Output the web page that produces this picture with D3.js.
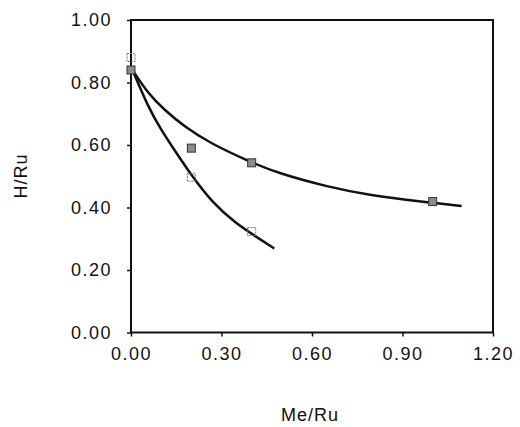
<!DOCTYPE html>
<html>
<head>
<meta charset="utf-8">
<script src="https://cdn.jsdelivr.net/npm/d3@7"></script>
<style>
  body { margin: 0; background: #fff; }
  svg text { font-family: "Liberation Sans", Arial, sans-serif; fill: #111; }
</style>
</head>
<body>
<svg id="chart" width="520" height="427"></svg>
<script>
// tick values
var xTicks = [0, 0.3, 0.6, 0.9, 1.2]
var yTicks = [0, 0.2, 0.4, 0.6, 0.8, 1.0]

// measured points (filled squares)
var filledX = [0, 0.2, 0.4, 1.0]
var filledY = [0.84, 0.59, 0.543, 0.419]

// measured points (open squares)
var openX = [0, 0.2, 0.4]
var openY = [0.88, 0.497, 0.323]

// fitted curves
var upperX = [0.005, 0.056, 0.111, 0.177, 0.26, 0.392, 0.486, 0.656, 0.788, 0.92, 1.0, 1.096]
var upperY = [0.84, 0.765, 0.712, 0.659, 0.607, 0.547, 0.51, 0.465, 0.44, 0.424, 0.415, 0.405]
var lowerX = [0.005, 0.056, 0.1, 0.144, 0.195, 0.271, 0.348, 0.414, 0.475]
var lowerY = [0.84, 0.723, 0.648, 0.584, 0.51, 0.413, 0.349, 0.307, 0.269]

var svg = d3.select("#chart")

var x = d3.scaleLinear().domain([0, 1.2]).range([131, 493])
var y = d3.scaleLinear().domain([0, 1.0]).range([332.5, 20])

// axes
svg.append("g")
    .attr("transform", "translate(0," + y(0) + ")")
    .call(d3.axisBottom(x).tickValues(xTicks).tickFormat(d3.format(".2f")).tickSize(4).tickPadding(11))
svg.append("g")
    .attr("transform", "translate(" + x(0) + ",0)")
    .call(d3.axisLeft(y).tickValues(yTicks).tickFormat(d3.format(".2f")).tickSize(4).tickPadding(15))

svg.selectAll(".domain").remove()
svg.selectAll(".tick line").style("stroke", "#111").style("stroke-width", "1.5px")
svg.selectAll(".tick text")
    .style("font-size", "18px")
    .style("letter-spacing", "1.5px")
    .style("fill", "#111")

// frame
svg.append("rect")
    .attr("x", x(0)).attr("y", y(1))
    .attr("width", x(1.2) - x(0)).attr("height", y(0) - y(1))
    .attr("fill", "none").attr("stroke", "#111").attr("stroke-width", 2)

// curves
var line = d3.line()
    .x(function(d){ return x(d[0]) })
    .y(function(d){ return y(d[1]) })
    .curve(d3.curveBasis)

svg.append("path")
    .datum(d3.zip(upperX, upperY))
    .attr("d", line)
    .attr("fill", "none").attr("stroke", "#111").attr("stroke-width", 2.5)
svg.append("path")
    .datum(d3.zip(lowerX, lowerY))
    .attr("d", line)
    .attr("fill", "none").attr("stroke", "#111").attr("stroke-width", 2.5)

// markers
var s = 8
svg.selectAll(".filled")
    .data(d3.zip(filledX, filledY))
    .enter()
    .append("rect")
        .attr("class", "filled")
        .attr("x", function(d){ return x(d[0]) - s / 2 })
        .attr("y", function(d){ return y(d[1]) - s / 2 })
        .attr("width", s).attr("height", s)
        .attr("fill", "#8c8c8c").attr("stroke", "#333").attr("stroke-width", 1)

svg.selectAll(".open")
    .data(d3.zip(openX, openY))
    .enter()
    .append("rect")
        .attr("class", "open")
        .attr("x", function(d){ return x(d[0]) - 4 })
        .attr("y", function(d){ return y(d[1]) - 4 })
        .attr("width", 8).attr("height", 8)
        .attr("fill", "none").attr("stroke", "#777").attr("stroke-width", 1)
        .attr("stroke-dasharray", "2,1")

// axis titles
svg.append("text")
    .attr("x", 310).attr("y", 421)
    .attr("text-anchor", "middle")
    .style("font-size", "18px").style("letter-spacing", "1px")
    .text("Me/Ru")
svg.append("text")
    .attr("transform", "translate(27,176)rotate(-90)")
    .attr("text-anchor", "middle")
    .style("font-size", "18px").style("letter-spacing", "1px")
    .text("H/Ru")
</script>
</body>
</html>
